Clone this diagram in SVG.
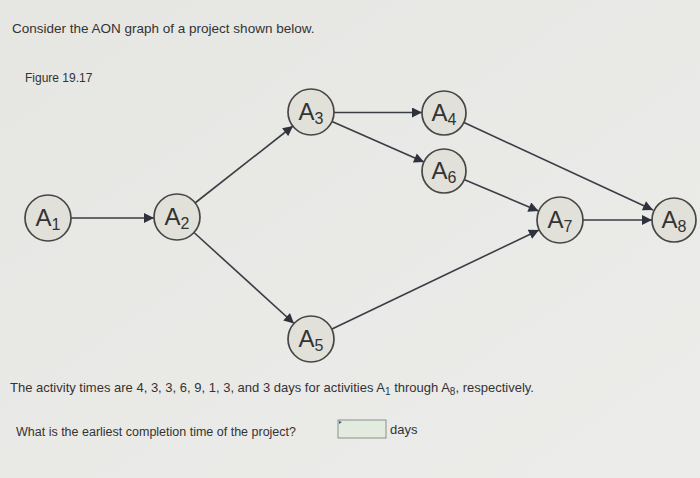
<svg xmlns="http://www.w3.org/2000/svg" width="700" height="478" viewBox="0 0 700 478">
  <defs>
    <linearGradient id="bg" x1="0" y1="0" x2="1" y2="1">
      <stop offset="0" stop-color="#e6e6e3"/>
      <stop offset="1" stop-color="#ececea"/>
    </linearGradient>
    <marker id="arr" viewBox="0 0 10 10" refX="10" refY="5" markerWidth="11" markerHeight="10" markerUnits="userSpaceOnUse" orient="auto">
      <path d="M0,0 L10,5 L0,10 z" fill="#2e323c"/>
    </marker>
  </defs>
  <style>
    .txt { font-family: "Liberation Sans", Arial, sans-serif; fill: #333333; }
    .node circle { fill: #e1e0d9; stroke: #464646; stroke-width: 1.7; }
    .node text { font-family: "Liberation Sans", Arial, sans-serif; font-size: 24px; fill: #333333; text-anchor: middle; }
    .sub { font-size: 16px; }
    .edge { stroke: #3a3d45; stroke-width: 1.6; fill: none; marker-end: url(#arr); }
  </style>
  <rect x="0" y="0" width="700" height="478" fill="url(#bg)"/>

  <text class="txt" x="12" y="33" font-size="13.5">Consider the AON graph of a project shown below.</text>
  <text class="txt" x="25" y="82" font-size="12">Figure 19.17</text>

  <g id="connectors">
    <line class="edge" x1="71" y1="218" x2="154" y2="218"/>
    <line class="edge" x1="195" y1="203" x2="293" y2="126"/>
    <line class="edge" x1="194" y1="232.5" x2="294" y2="323.5"/>
    <line class="edge" x1="334" y1="112.5" x2="422" y2="112.5"/>
    <line class="edge" x1="332" y1="121.5" x2="424" y2="162"/>
    <line class="edge" x1="464" y1="122.5" x2="653" y2="210"/>
    <line class="edge" x1="464" y1="179.5" x2="538.5" y2="211"/>
    <line class="edge" x1="332" y1="329" x2="539" y2="230"/>
    <line class="edge" x1="583" y1="220" x2="652" y2="220"/>
  </g>

  <g id="A1" class="node"><circle cx="48" cy="218" r="23"/><text x="48" y="226">A<tspan class="sub" dy="4">1</tspan></text></g>
  <g id="A2" class="node"><circle cx="177" cy="217" r="23"/><text x="177" y="225">A<tspan class="sub" dy="4">2</tspan></text></g>
  <g id="A3" class="node"><circle cx="311" cy="112" r="23"/><text x="311" y="120">A<tspan class="sub" dy="4">3</tspan></text></g>
  <g id="A4" class="node"><circle cx="444" cy="113" r="22"/><text x="444" y="121">A<tspan class="sub" dy="4">4</tspan></text></g>
  <g id="A6" class="node"><circle cx="444" cy="171" r="22"/><text x="444" y="179">A<tspan class="sub" dy="4">6</tspan></text></g>
  <g id="A5" class="node"><circle cx="311" cy="339" r="23"/><text x="311" y="347">A<tspan class="sub" dy="4">5</tspan></text></g>
  <g id="A7" class="node"><circle cx="560" cy="220" r="23"/><text x="560" y="228">A<tspan class="sub" dy="4">7</tspan></text></g>
  <g id="A8" class="node"><circle cx="674" cy="220" r="22"/><text x="674" y="228">A<tspan class="sub" dy="4">8</tspan></text></g>

  <text class="txt" x="10" y="392" font-size="13">The activity times are 4, 3, 3, 6, 9, 1, 3, and 3 days for activities A<tspan font-size="10" dy="3">1</tspan><tspan dy="-3"> through A</tspan><tspan font-size="10" dy="3">8</tspan><tspan dy="-3">, respectively.</tspan></text>
  <text class="txt" x="16" y="436" font-size="12.5">What is the earliest completion time of the project?</text>
  <g id="input">
    <rect x="338" y="420" width="48" height="18" fill="#e3ebdf" stroke="#8a8f8a" stroke-width="1"/>
    <path d="M339,421 L342,422 L339,424 z" fill="#3a5a9a"/>
  </g>
  <text class="txt" x="390" y="434" font-size="13">days</text>
</svg>
